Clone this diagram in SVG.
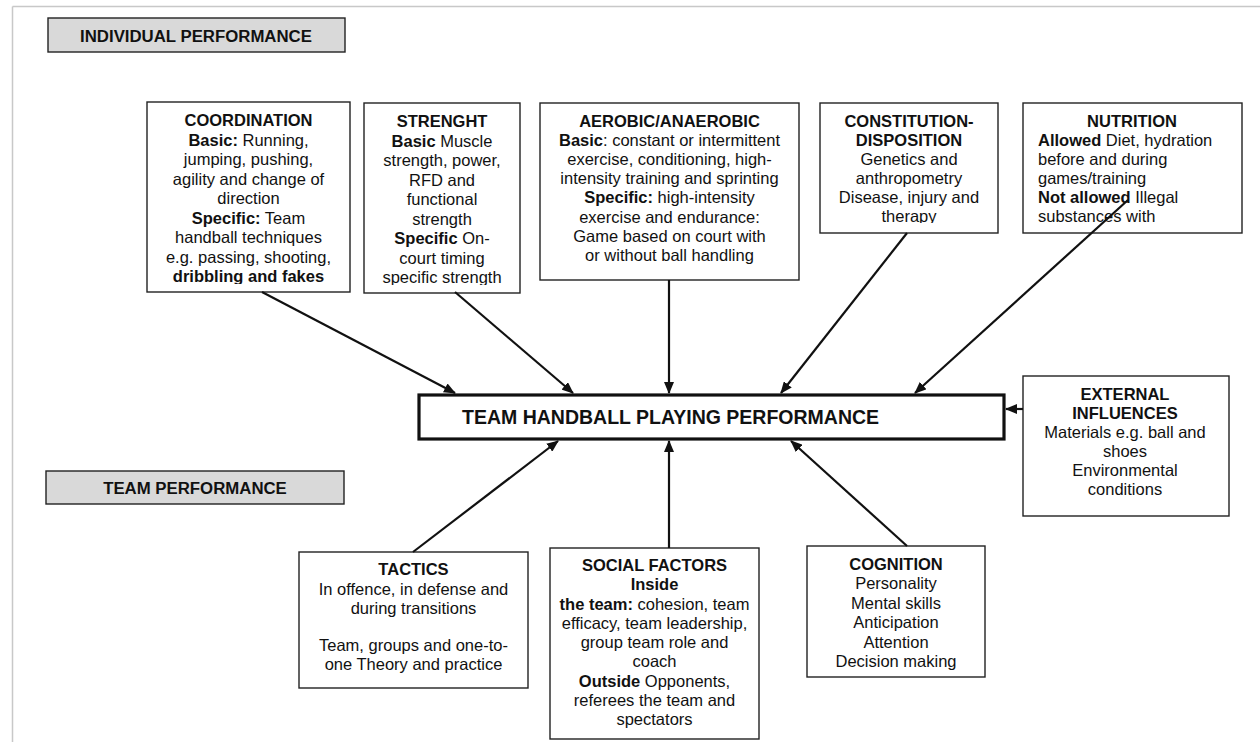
<svg xmlns="http://www.w3.org/2000/svg" width="1260" height="742" viewBox="0 0 1260 742">
<style>
text{font-family:"Liberation Sans",Arial,sans-serif;fill:#111;font-size:16.5px}
.c{text-anchor:middle}
.b{font-weight:bold}
.h{font-weight:bold;font-size:16.8px}
.box{fill:#fff;stroke:#222;stroke-width:1.4}
.hdr{fill:#d9d9d9;stroke:#222;stroke-width:1.4}
.con{stroke:#111;stroke-width:2.2;fill:none;marker-end:url(#ah)}
</style>
<defs>
<marker id="ah" markerUnits="userSpaceOnUse" markerWidth="12" markerHeight="10" refX="11" refY="5" orient="auto">
<path d="M0,0 L12,5 L0,10 z" fill="#111"/>
</marker>
<clipPath id="clipCoord"><rect x="147" y="102" width="203" height="182"/></clipPath>
<clipPath id="clipStr"><rect x="364" y="103" width="156" height="182"/></clipPath>
<clipPath id="clipCons"><rect x="820" y="103" width="178" height="120"/></clipPath>
<clipPath id="clipNut"><rect x="1023" y="103" width="219" height="121"/></clipPath>
</defs>
<rect width="1260" height="742" fill="#fff"/>
<g id="frame" stroke="#c8c8c8" stroke-width="1.5" fill="none">
<line x1="12.5" y1="6.5" x2="1260" y2="6.5"/>
<line x1="12.5" y1="6.5" x2="12.5" y2="742"/>
</g>
<g id="individual-performance">
<rect class="hdr" x="48" y="18" width="297" height="34"/>
<text class="h c" x="196" y="42">INDIVIDUAL PERFORMANCE</text>
</g>
<g id="team-performance">
<rect class="hdr" x="46" y="471" width="298" height="33"/>
<text class="h c" x="195" y="494">TEAM PERFORMANCE</text>
</g>
<g id="coordination">
<rect class="box" x="147" y="102" width="203" height="190"/>
<g clip-path="url(#clipCoord)">
<text class="c" x="248.5" y="126"><tspan class="b">COORDINATION</tspan></text>
<text class="c" x="248.5" y="145.5"><tspan class="b">Basic:</tspan> Running,</text>
<text class="c" x="248.5" y="165">jumping, pushing,</text>
<text class="c" x="248.5" y="184.5">agility and change of</text>
<text class="c" x="248.5" y="204">direction</text>
<text class="c" x="248.5" y="223.5"><tspan class="b">Specific:</tspan> Team</text>
<text class="c" x="248.5" y="243">handball techniques</text>
<text class="c" x="248.5" y="262.5">e.g. passing, shooting,</text>
<text class="c b" x="248.5" y="282">dribbling and fakes</text>
</g>
</g>
<g id="strength">
<rect class="box" x="364" y="103" width="156" height="190"/>
<g clip-path="url(#clipStr)">
<text class="c b" x="442" y="127">STRENGHT</text>
<text class="c" x="442" y="146.5"><tspan class="b">Basic</tspan> Muscle</text>
<text class="c" x="442" y="166">strength, power,</text>
<text class="c" x="442" y="185.5">RFD and</text>
<text class="c" x="442" y="205">functional</text>
<text class="c" x="442" y="224.5">strength</text>
<text class="c" x="442" y="244"><tspan class="b">Specific</tspan> On-</text>
<text class="c" x="442" y="263.5">court timing</text>
<text class="c" x="442" y="283">specific strength</text>
</g>
</g>
<g id="aerobic">
<rect class="box" x="540" y="103" width="259" height="177"/>
<text class="c b" x="669.5" y="126.5">AEROBIC/ANAEROBIC</text>
<text class="c" x="669.5" y="145.7"><tspan class="b">Basic</tspan>: constant or intermittent</text>
<text class="c" x="669.5" y="164.9">exercise, conditioning, high-</text>
<text class="c" x="669.5" y="184.1">intensity training and sprinting</text>
<text class="c" x="669.5" y="203.3"><tspan class="b">Specific:</tspan> high-intensity</text>
<text class="c" x="669.5" y="222.5">exercise and endurance:</text>
<text class="c" x="669.5" y="241.7">Game based on court with</text>
<text class="c" x="669.5" y="260.9">or without ball handling</text>
</g>
<g id="constitution">
<rect class="box" x="820" y="103" width="178" height="130"/>
<g clip-path="url(#clipCons)">
<text class="c b" x="909" y="127">CONSTITUTION-</text>
<text class="c b" x="909" y="146">DISPOSITION</text>
<text class="c" x="909" y="165">Genetics and</text>
<text class="c" x="909" y="184">anthropometry</text>
<text class="c" x="909" y="203">Disease, injury and</text>
<text class="c" x="909" y="222">therapy</text>
</g>
</g>
<g id="nutrition">
<rect class="box" x="1023" y="103" width="219" height="130"/>
<g clip-path="url(#clipNut)">
<text class="c b" x="1132" y="127">NUTRITION</text>
<text x="1038" y="146"><tspan class="b">Allowed</tspan> Diet, hydration</text>
<text x="1038" y="165">before and during</text>
<text x="1038" y="184">games/training</text>
<text x="1038" y="203"><tspan class="b">Not allowed</tspan> Illegal</text>
<text x="1038" y="222">substances with</text>
</g>
</g>
<g id="main">
<rect x="419" y="395" width="585" height="44" fill="#fff" stroke="#111" stroke-width="3.2"/>
<text class="b" x="462" y="424" style="font-size:19.5px">TEAM HANDBALL PLAYING PERFORMANCE</text>
</g>
<g id="external">
<rect class="box" x="1023" y="376" width="206" height="140"/>
<text class="c b" x="1125" y="400">EXTERNAL</text>
<text class="c b" x="1125" y="419">INFLUENCES</text>
<text class="c" x="1125" y="438">Materials e.g. ball and</text>
<text class="c" x="1125" y="457">shoes</text>
<text class="c" x="1125" y="476">Environmental</text>
<text class="c" x="1125" y="495">conditions</text>
</g>
<g id="tactics">
<rect class="box" x="299" y="552" width="229" height="136"/>
<text class="c b" x="413.5" y="575">TACTICS</text>
<text class="c" x="413.5" y="594.5">In offence, in defense and</text>
<text class="c" x="413.5" y="614">during transitions</text>
<text class="c" x="413.5" y="651">Team, groups and one-to-</text>
<text class="c" x="413.5" y="670">one Theory and practice</text>
</g>
<g id="social">
<rect class="box" x="550" y="548" width="209" height="191"/>
<text class="c b" x="654.5" y="571">SOCIAL FACTORS</text>
<text class="c b" x="654.5" y="590.25">Inside</text>
<text class="c" x="654.5" y="609.5"><tspan class="b">the team:</tspan> cohesion, team</text>
<text class="c" x="654.5" y="628.75">efficacy, team leadership,</text>
<text class="c" x="654.5" y="648">group team role and</text>
<text class="c" x="654.5" y="667.25">coach</text>
<text class="c" x="654.5" y="686.5"><tspan class="b">Outside</tspan> Opponents,</text>
<text class="c" x="654.5" y="705.75">referees the team and</text>
<text class="c" x="654.5" y="725">spectators</text>
</g>
<g id="cognition">
<rect class="box" x="807" y="546" width="178" height="131"/>
<text class="c b" x="896" y="570">COGNITION</text>
<text class="c" x="896" y="589.4">Personality</text>
<text class="c" x="896" y="608.8">Mental skills</text>
<text class="c" x="896" y="628.2">Anticipation</text>
<text class="c" x="896" y="647.6">Attention</text>
<text class="c" x="896" y="667">Decision making</text>
</g>
<g id="connectors">
<line class="con" x1="262" y1="292" x2="455" y2="393"/>
<line class="con" x1="455" y1="292" x2="573" y2="393"/>
<line class="con" x1="669" y1="280" x2="669" y2="393"/>
<line class="con" x1="907" y1="233" x2="781" y2="393"/>
<line class="con" x1="1128" y1="200" x2="915" y2="393"/>
<line class="con" x1="1023" y1="409" x2="1006" y2="409"/>
<line class="con" x1="413" y1="552" x2="558" y2="441"/>
<line class="con" x1="669" y1="548" x2="669" y2="441"/>
<line class="con" x1="907" y1="546" x2="791" y2="441"/>
</g>
</svg>
